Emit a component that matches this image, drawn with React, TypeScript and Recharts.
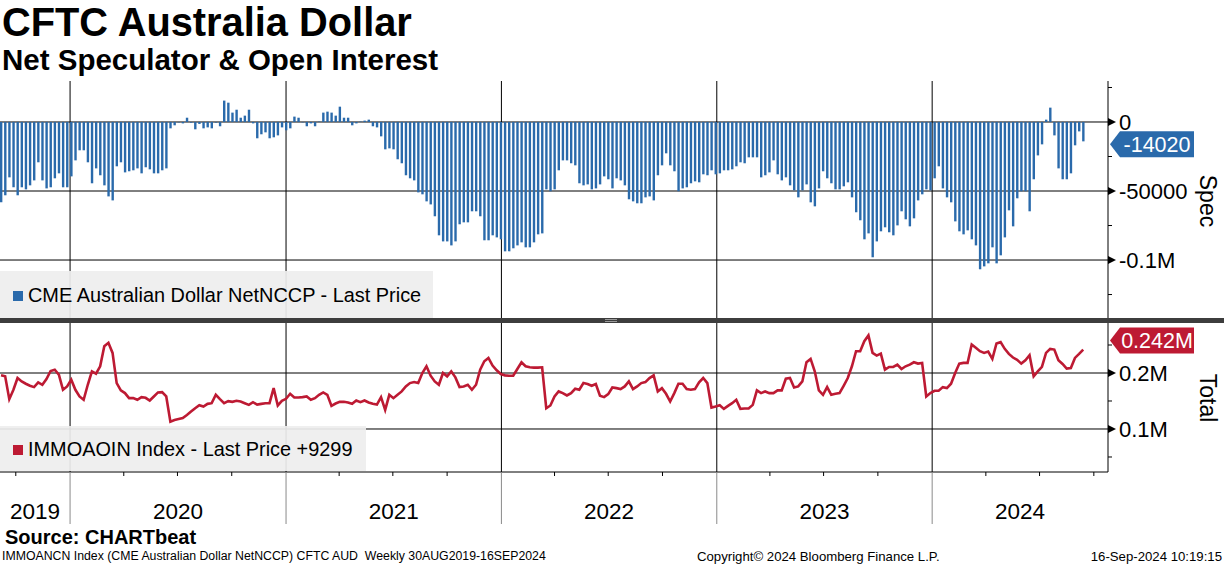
import React from 'react';
import { BarChart, Bar, LineChart, Line, XAxis, YAxis, CartesianGrid, ReferenceLine } from 'recharts';

// ---------- Data (weekly, first observation 06 Sep 2019) ----------
const spec2019 = [-58200, -53100, -40100, -47300, -53100, -47300, -48800, -45900, -42300, -29200, -42300, -48100, -47300, -40800, -37200, -47300, -47300];
const spec2020 = [-39400, -27800, -20500, -20500, -29200, -44400, -33600, -38600, -45900, -53900, -56800, -32100, -29200, -36500, -35700, -35000, -33600, -37200, -32800, -34300, -37200, -37200, -35000, -33600, -4600, -2400, -300, -1000, 3100, -500, -5300, -1400, -4600, -3900, -4600, -500, -3100, 15500, 14000, 6800, 8900, 3100, 4600, 8900, -1000, -11800, -8900, -7500, -11800, -11100, -9700, -3900];
const spec2021 = [-6000, -4600, 3900, 3100, -300, -3100, -1000, -3100, 300, 6800, 7500, 6800, 4600, 11100, 3100, 3100, -2400, -1000, 300, 1000, 1700, -3100, -3900, -10400, -19800, -19100, -19800, -27000, -29900, -38600, -40800, -42300, -51000, -52400, -57500, -59700, -68300, -82100, -86500, -86500, -89400, -86500, -74100, -72700, -72700, -64700, -64700, -68300, -85700, -85700, -82100, -83600, -85000];
const spec2022 = [-93700, -93700, -91500, -89400, -87200, -90800, -90800, -87200, -81400, -80700, -48800, -50200, -48800, -35000, -27800, -27800, -29900, -31400, -44400, -45900, -45200, -48800, -48100, -45200, -39400, -41500, -48100, -40800, -42300, -45900, -56000, -57500, -58900, -58900, -54600, -53900, -56800, -38600, -31400, -22700, -31400, -35700, -50200, -48100, -47300, -44400, -43000, -43700, -37900, -38600, -35000, -37900];
const spec2023 = [-37200, -35000, -35000, -34300, -32100, -29200, -29900, -25600, -25600, -25600, -40100, -38600, -36500, -27800, -37900, -42300, -40100, -45900, -49500, -54600, -49500, -45200, -58200, -61100, -48100, -35700, -40800, -44400, -48800, -48800, -46600, -43700, -54600, -65400, -71200, -85000, -80700, -98000, -86500, -79200, -76300, -79900, -82100, -74900, -64700, -70500, -75600, -69800, -56800, -52400, -48800, -49500];
const spec2024 = [-40800, -32100, -48100, -54600, -58200, -72000, -79200, -81400, -78500, -85000, -89400, -106700, -104600, -102400, -90800, -102400, -96600, -83600, -64000, -75600, -55300, -50200, -50200, -64700, -41500, -24200, -16200, 1700, 10400, -9700, -33600, -41500, -41500, -37200, -16900, -6800, -14020];

const oi2019 = [195800, 194000, 153300, 170000, 191000, 185000, 180800, 177200, 174800, 183200, 179000, 189200, 203600, 206000, 197000, 170000, 176000];
const oi2020 = [188000, 170000, 158100, 152100, 179000, 203000, 198800, 212000, 247900, 253900, 235900, 182000, 168900, 164100, 155100, 155100, 152100, 156900, 155700, 150900, 158100, 165300, 165900, 158100, 113100, 116100, 117900, 119700, 125100, 131100, 137100, 142500, 140100, 144900, 146100, 161100, 153300, 146100, 149700, 148500, 150300, 149100, 146100, 143100, 147900, 143700, 144900, 146100, 146100, 173000, 142000, 150300];
const oi2021 = [153900, 162900, 156300, 156300, 156900, 158100, 152100, 155100, 161100, 165300, 161100, 141300, 145500, 148500, 148500, 147300, 144900, 150900, 147900, 150900, 147300, 144900, 143700, 156900, 134100, 161100, 155100, 161100, 167100, 176000, 182000, 183800, 182000, 200000, 212000, 195200, 185000, 179000, 200000, 194000, 203000, 192200, 174800, 176000, 179000, 170000, 179000, 206000, 221000, 227000, 213200, 204800, 198200];
const oi2022 = [195800, 195200, 195200, 207200, 219200, 212000, 210200, 209600, 209600, 210200, 137100, 142000, 158100, 167100, 164100, 159900, 164100, 171800, 170000, 182000, 180200, 177200, 180200, 159300, 156900, 162300, 174200, 173000, 171200, 176000, 185000, 171200, 176000, 182000, 183800, 191000, 195800, 167100, 173000, 162900, 149100, 164100, 180800, 180800, 171200, 170000, 171200, 183200, 191000, 182000, 138300, 140100];
const oi2023 = [142500, 135900, 141300, 146100, 152100, 135900, 136500, 136500, 143100, 168900, 164100, 167100, 164100, 164100, 168900, 168900, 189800, 191000, 174200, 176000, 185000, 219200, 225200, 203000, 168900, 161100, 174800, 161100, 162900, 164100, 177200, 191000, 212000, 238900, 238900, 256900, 267100, 235900, 231100, 234700, 206000, 210800, 210800, 215000, 207200, 212000, 215000, 219200, 216800, 218000, 158100, 164100];
const oi2024 = [168300, 168300, 174800, 173000, 180800, 200000, 216800, 218000, 218000, 250900, 244900, 238900, 235900, 238300, 225200, 252700, 255100, 243100, 234100, 227600, 223400, 216800, 222800, 231700, 194000, 203000, 210800, 235900, 243100, 241900, 222800, 216200, 207800, 209000, 227000, 234100, 241900];

const specValues = [...spec2019, ...spec2020, ...spec2021, ...spec2022, ...spec2023, ...spec2024];
const oiValues = [...oi2019, ...oi2020, ...oi2021, ...oi2022, ...oi2023, ...oi2024];

const specTickValues = [0, -50000, -100000];
const specTickLabels = ['0', '-50000', '-0.1M'];
const specMinorTicks = [25000, -25000, -75000, -125000];
const oiTickValues = [200000, 100000];
const oiTickLabels = ['0.2M', '0.1M'];
const oiMinorTicks = [250000, 150000, 50000];
const years = [2019, 2020, 2021, 2022, 2023, 2024];

// ---------- Derived tables ----------
const START = Date.UTC(2019, 8, 6);
const WEEK = 7 * 24 * 3600 * 1000;
const weekPos = (y: number, m: number, d: number) => (Date.UTC(y, m, d) - START) / WEEK;

const data = specValues.map((v, i) => ({ i, spec: v, oi: oiValues[i] }));
const X_DOMAIN: [number, number] = [-0.25, 268];

const yearStarts = years.slice(1).map((y) => weekPos(y, 0, 1));
const quarterTicks: number[] = [];
years.forEach((y) => [3, 6, 9].forEach((m) => {
  const p = weekPos(y, m, 1);
  if (p > X_DOMAIN[0] && p < X_DOMAIN[1]) quarterTicks.push(p);
}));
const yearLabelPos = years.map((y) => (Math.max(X_DOMAIN[0], weekPos(y, 0, 1)) + Math.min(X_DOMAIN[1], weekPos(y + 1, 0, 1))) / 2);
const tickKind = new Map<number, { kind: string; label?: string }>();
quarterTicks.forEach((v) => tickKind.set(v, { kind: 'q' }));
yearStarts.forEach((v) => tickKind.set(v, { kind: 'y' }));
yearLabelPos.forEach((v, k) => tickKind.set(v, { kind: 'l', label: String(years[k]) }));
const xTicks = [...quarterTicks, ...yearStarts, ...yearLabelPos];

const FONT = '"Liberation Sans", Arial, sans-serif';
const BLUE = '#2a6aab';
const RED = '#bd1a33';
const PLOT_R = 1108;
const W = 1224;

const makeYTick = (majors: number[], labels: string[]) => (props: any) => {
  const { y, payload } = props;
  const idx = majors.indexOf(payload.value);
  if (idx < 0) {
    return <line x1={PLOT_R} x2={PLOT_R + 4} y1={y} y2={y} stroke="#000" strokeWidth={1} />;
  }
  return (
    <g>
      <polygon points={`${PLOT_R},${y - 4} ${PLOT_R + 8},${y} ${PLOT_R},${y + 4}`} fill="#000" />
      <text x={PLOT_R + 11} y={y} dy="0.36em" fontSize={22} fontFamily={FONT} fill="#000">{labels[idx]}</text>
    </g>
  );
};
const SpecTick = makeYTick(specTickValues, specTickLabels);
const OiTick = makeYTick(oiTickValues, oiTickLabels);

const AXIS_Y = 149;
const XTick = (props: any) => {
  const { x, payload } = props;
  const info = tickKind.get(payload.value);
  if (!info) return null;
  if (info.kind === 'q') return <line x1={x} x2={x} y1={AXIS_Y} y2={AXIS_Y + 4} stroke="#000" />;
  if (info.kind === 'y') return <line x1={x} x2={x} y1={AXIS_Y} y2={AXIS_Y + 52} stroke="#8a8a8a" />;
  return (
    <text x={x} y={188} dy="0.36em" textAnchor="middle" fontSize={22.5} fontFamily={FONT} fill="#000">{info.label}</text>
  );
};

const Badge = (props: any) => {
  const { viewBox, text, fill, shift } = props;
  if (!viewBox) return null;
  const x0 = viewBox.x + viewBox.width + 2;
  const cy = viewBox.y + (shift || 0);
  const pts = `${x0},${cy} ${x0 + 10},${cy - 13} ${x0 + 84},${cy - 13} ${x0 + 84},${cy + 13} ${x0 + 10},${cy + 13}`;
  return (
    <g>
      <polygon points={pts} fill={fill} />
      <text x={x0 + 47} y={cy} dy="0.36em" textAnchor="middle" fontSize={21.5} fontFamily={FONT} fill="#fff">{text}</text>
    </g>
  );
};

const lastSpec = specValues[specValues.length - 1];
const lastOi = oiValues[oiValues.length - 1];

const abs = (l: number, t: number, extra: React.CSSProperties = {}): React.CSSProperties => ({ position: 'absolute', left: l, top: t, ...extra });

export default function App() {
  return (
    <div style={{ position: 'absolute', left: 0, top: 0, width: W, height: 566, background: '#fff', overflow: 'hidden', fontFamily: FONT, color: '#000' }}>
      <div style={abs(2, 3, { fontSize: 39.8, fontWeight: 'bold', lineHeight: 1, whiteSpace: 'nowrap' })}>CFTC Australia Dollar</div>
      <div style={abs(2, 45, { fontSize: 29.5, fontWeight: 'bold', lineHeight: 1, whiteSpace: 'nowrap' })}>Net Speculator &amp; Open Interest</div>

      {/* Top panel */}
      <div style={abs(0, 81)}>
        <BarChart width={W} height={237} data={data} margin={{ top: 0, right: 0, bottom: 0, left: 0 }}>
          <CartesianGrid stroke="#000" strokeWidth={1} horizontalValues={specTickValues} verticalValues={yearStarts} />
          <XAxis dataKey="i" type="number" domain={X_DOMAIN} allowDataOverflow hide />
          <YAxis orientation="right" width={116} type="number" domain={[-142000, 29700]} allowDataOverflow
            ticks={[...specMinorTicks, ...specTickValues]} interval={0} tick={SpecTick} tickLine={false}
            axisLine={{ stroke: '#000' }} />
          <Bar dataKey="spec" fill={BLUE} barSize={2.4} isAnimationActive={false} />
          <ReferenceLine y={lastSpec} stroke="none" label={<Badge text={String(lastSpec)} fill={BLUE} shift={3} />} />
        </BarChart>
      </div>

      {/* Bottom panel */}
      <div style={abs(0, 323)}>
        <LineChart width={W} height={201} data={data} margin={{ top: 0, right: 0, bottom: 0, left: 0 }}>
          <CartesianGrid stroke="#000" strokeWidth={1} horizontalValues={oiTickValues} verticalValues={yearStarts} />
          <XAxis dataKey="i" type="number" domain={X_DOMAIN} allowDataOverflow height={52}
            ticks={xTicks} interval={0} tick={XTick} tickLine={false} axisLine={{ stroke: '#000' }} />
          <YAxis orientation="right" width={116} type="number" domain={[23200, 289300]} allowDataOverflow
            ticks={[...oiMinorTicks, ...oiTickValues]} interval={0} tick={OiTick} tickLine={false}
            axisLine={{ stroke: '#000' }} />
          <Line dataKey="oi" type="linear" stroke={RED} strokeWidth={2.6} dot={false} isAnimationActive={false} />
          <ReferenceLine y={lastOi} stroke="none" label={<Badge text={(lastOi / 1e6).toFixed(3) + 'M'} fill={RED} shift={-9} />} />
        </LineChart>
      </div>

      {/* separator */}
      <div style={abs(0, 318, { width: W, height: 5, background: '#3d3d3d' })} />
      <div style={abs(605, 319, { width: 12, height: 1, background: '#9a9a9a' })} />
      <div style={abs(605, 321, { width: 12, height: 1, background: '#9a9a9a' })} />

      {/* legends */}
      <div style={abs(0, 271, { width: 433, height: 47, background: 'rgba(238,238,238,0.92)', display: 'flex', alignItems: 'center', paddingTop: 2, boxSizing: 'border-box' })}>
        <div style={{ width: 10, height: 10, background: BLUE, marginLeft: 13, marginRight: 5 }} />
        <span style={{ fontSize: 19.9, whiteSpace: 'nowrap' }}>CME Australian Dollar NetNCCP - Last Price</span>
      </div>
      <div style={abs(0, 426, { width: 366, height: 45, background: 'rgba(238,238,238,0.92)', display: 'flex', alignItems: 'center', paddingTop: 2, boxSizing: 'border-box' })}>
        <div style={{ width: 10, height: 10, background: RED, marginLeft: 13, marginRight: 5 }} />
        <span style={{ fontSize: 19.9, whiteSpace: 'nowrap' }}>IMMOAOIN Index - Last Price +9299</span>
      </div>

      {/* axis titles */}
      <div style={abs(1207, 201, { transform: 'translate(-50%,-50%) rotate(90deg)', fontSize: 23, lineHeight: 1, whiteSpace: 'nowrap' })}>Spec</div>
      <div style={abs(1207, 398, { transform: 'translate(-50%,-50%) rotate(90deg)', fontSize: 23, lineHeight: 1, whiteSpace: 'nowrap' })}>Total</div>

      {/* footer */}
      <div style={abs(5, 527, { fontSize: 20, fontWeight: 'bold', lineHeight: 1, whiteSpace: 'nowrap' })}>Source: CHARTbeat</div>
      <div style={abs(2, 550, { fontSize: 12.3, lineHeight: 1, whiteSpace: 'pre' })}>IMMOANCN Index (CME Australian Dollar NetNCCP) CFTC AUD  Weekly 30AUG2019-16SEP2024</div>
      <div style={abs(697, 550, { fontSize: 13.2, lineHeight: 1, whiteSpace: 'pre' })}>Copyright© 2024 Bloomberg Finance L.P.</div>
      <div style={abs(1222, 550, { fontSize: 13.2, lineHeight: 1, whiteSpace: 'pre', transform: 'translateX(-100%)' })}>16-Sep-2024 10:19:15</div>
    </div>
  );
}
